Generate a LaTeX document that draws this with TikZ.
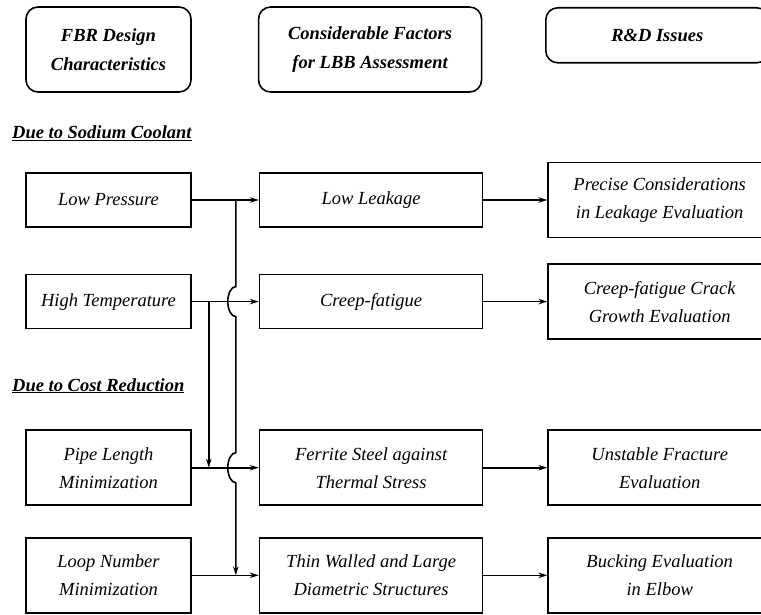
\documentclass[tikz,border=0pt]{standalone}
\usepackage{fontspec}
\setmainfont{Liberation Serif}
\usetikzlibrary{arrows.meta, positioning, calc}

\begin{document}
\begin{tikzpicture}[x=1pt, y=1pt, box/.style={draw, line width=1.6pt, align=center, inner sep=0pt, minimum height=54pt, font=\fontsize{18.5}{28}\selectfont\itshape}, tall/.style={minimum height=75pt}, head/.style={box, rounded corners=12pt, font=\fontsize{18.5}{29}\selectfont\bfseries\itshape}, narrow/.style={minimum width=165pt}, wide/.style={minimum width=223pt}, group/.style={inner sep=0pt, anchor=base west, font=\fontsize{18.5}{28}\selectfont\bfseries\itshape}, arrow/.style={-{Stealth[length=9pt, width=5.5pt]}, line width=1.6pt}]

\useasboundingbox (0,0) rectangle (761,-615);
\clip (0,0) rectangle (761,-615);

\node[head, narrow, minimum height=85pt] (fbr) at (108.5,-49.5) {FBR Design\\Characteristics};
\node[head, wide, minimum height=85pt, right=66pt of fbr] (factors) {Considerable Factors\\for LBB Assessment};
\node[head, wide, minimum height=55pt, anchor=north west] (rd) at (545,-7) {R\&D Issues};

\node[group] (sodium) at (12,-139) {\underline{Due to Sodium Coolant}};
\node[group] (cost) at (12,-391) {\underline{Due to Cost Reduction}};

\node[box, narrow] (lowp) at (108.5,-200) {Low Pressure};
\node[box, narrow, below=46pt of lowp] (hight) {High Temperature};
\node[box, narrow, tall, below=100pt of hight] (pipe) {Pipe Length\\Minimization};
\node[box, narrow, tall, below=31pt of pipe] (loop) {Loop Number\\Minimization};

\node[box, wide, right=67pt of lowp] (leak) {Low Leakage};
\node[box, wide, right=67pt of hight] (creep) {Creep-fatigue};
\node[box, wide, tall, right=67pt of pipe] (ferrite) {Ferrite Steel against\\Thermal Stress};
\node[box, wide, tall, right=67pt of loop] (thin) {Thin Walled and Large\\Diametric Structures};

\node[box, wide, tall, right=64pt of leak] (precise) {Precise Considerations\\in Leakage Evaluation};
\node[box, wide, tall, right=64pt of creep] (crack) {Creep-fatigue Crack\\Growth Evaluation};
\node[box, wide, tall, right=64pt of ferrite] (fracture) {Unstable Fracture\\Evaluation};
\node[box, wide, tall, right=64pt of thin] (elbow) {Bucking Evaluation\\in Elbow};

\draw[arrow](lowp)--(leak);\draw[arrow](hight)--(creep);\draw[arrow](pipe)--(ferrite);\draw[arrow](loop)--(thin);
\draw[arrow](leak)--(precise);\draw[arrow](creep)--(crack);\draw[arrow](ferrite)--(fracture);\draw[arrow](thin)--(elbow);

\coordinate (j1) at ([xshift=44pt]lowp.east);
\coordinate (j2) at ([xshift=17pt]hight.east);
\draw[arrow](j1)--($(j1 |- hight.east)+(0,15)$) arc[start angle=90, end angle=270, x radius=8, y radius=15]--($(j1 |- pipe.east)+(0,15)$) arc[start angle=90, end angle=270, x radius=8, y radius=15]--(j1 |- loop.east);
\draw[arrow](j2)--(j2 |- pipe.east);

\end{tikzpicture}
\end{document}
